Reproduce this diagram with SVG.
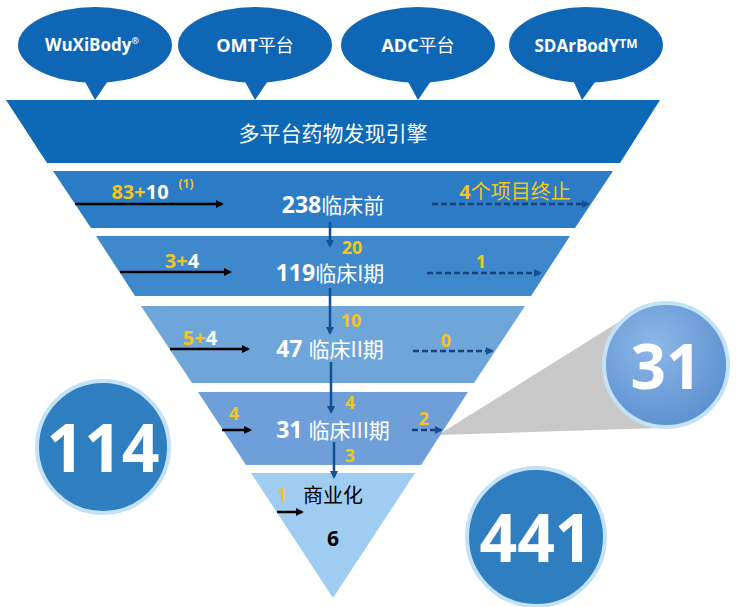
<svg xmlns="http://www.w3.org/2000/svg" width="744" height="607" viewBox="0 0 744 607">
<defs>
<style>
text{font-family:"Open Sans","Liberation Sans","Noto Sans CJK SC",sans-serif;font-weight:bold;text-anchor:middle}
.w{fill:#fff}.y{fill:#f3c51d}.k{fill:#000}
.cn{font-family:"Noto Sans CJK SC",sans-serif;font-weight:normal}
.solid{stroke:#000;stroke-width:2.5;fill:none;marker-end:url(#ak)}
.dash{stroke:#1a3f7a;stroke-width:2.5;fill:none;stroke-dasharray:6,3;marker-end:url(#ab)}
.down{stroke:#124f93;stroke-width:2.5;fill:none;marker-end:url(#ab)}
.bub{fill:#0f66b4}
</style>
<marker id="ak" markerWidth="8" markerHeight="8" refX="6" refY="4" orient="auto" markerUnits="userSpaceOnUse"><path d="M0,0L8,4L0,8z" fill="#000"/></marker>
<marker id="ab" markerWidth="8" markerHeight="8" refX="6" refY="4" orient="auto" markerUnits="userSpaceOnUse"><path d="M0,0L8,4L0,8z" fill="#124f93"/></marker>
<radialGradient id="g31" cx="0.4" cy="0.35" r="0.7"><stop offset="0" stop-color="#8db8e6"/><stop offset="1" stop-color="#5b8fd0"/></radialGradient>
</defs>
<g id="bubbles">
<g id="b1"><ellipse class="bub" cx="95" cy="45" rx="77" ry="38"/><path class="bub" d="M83,78L95,100L110,78z"/><text class="w" x="92" y="51" font-size="17">WuXiBody<tspan font-size="9" dy="-7">®</tspan></text></g>
<g id="b2"><ellipse class="bub" cx="255" cy="45" rx="77" ry="38"/><path class="bub" d="M243,78L255,100L270,78z"/><text class="w" x="255" y="52" font-size="18">OMT<tspan class="cn">平台</tspan></text></g>
<g id="b3"><ellipse class="bub" cx="418" cy="45" rx="77" ry="38"/><path class="bub" d="M406,78L418,100L433,78z"/><text class="w" x="418" y="52" font-size="18">ADC<tspan class="cn">平台</tspan></text></g>
<g id="b4"><ellipse class="bub" cx="586" cy="45" rx="77" ry="38"/><path class="bub" d="M572,78L582,100L598,78z"/><text class="w" x="586" y="52" font-size="17">SDArBodY<tspan font-size="12" dy="-4">TM</tspan></text></g>
</g>
<g id="shadow"><path d="M438,435L625,318L660,428z" fill="#c8c8c8"/></g>
<g id="funnel">
<g id="engine"><path d="M6,100H660L620,163H47z" fill="#0d68b6"/><text class="w cn" x="333" y="141" font-size="21">多平台药物发现引擎</text></g>
<g id="s0"><path d="M53,171H613L575,228H91z" fill="#2b7cc4"/></g>
<g id="s1"><path d="M96,236H570L531,296H135z" fill="#3f88cc"/></g>
<g id="s2"><path d="M141,306H525L474,383H192z" fill="#6ea6da"/></g>
<g id="s3"><path d="M198,392H468L421,465H246z" fill="#6f9fd9"/></g>
<g id="s4"><path d="M251,473H415L333,598z" fill="#9fccf0"/></g>
</g>
<g id="circles">
<g id="c114"><circle cx="103" cy="447" r="66" fill="#2f7fc0" stroke="#c3e2f6" stroke-width="4"/><text class="w" x="103" y="472" font-size="66">114</text></g>
<g id="c441"><circle cx="536" cy="537" r="69" fill="#2f7fc0" stroke="#c3e2f6" stroke-width="4"/><text class="w" x="536" y="562" font-size="66">441</text></g>
<g id="c31"><circle cx="666" cy="365" r="62" fill="url(#g31)" stroke="#c3e2f6" stroke-width="4"/><text class="w" x="666" y="389" font-size="62">31</text></g>
</g>
<g id="connectors">
<path class="solid" d="M75,204H222"/>
<path class="dash" d="M432,204H588"/>
<path class="down" d="M330,222V246"/>
<path class="solid" d="M120,272H230"/>
<path class="dash" d="M427,273H540"/>
<path class="down" d="M330,288V333"/>
<path class="solid" d="M170,349H248"/>
<path class="dash" d="M413,351H492"/>
<path class="down" d="M331,362V412"/>
<path class="solid" d="M222,430H250"/>
<path class="dash" d="M412,430H441"/>
<path class="down" d="M334,442V477"/>
<path class="solid" d="M277,512H302"/>
</g>
<g id="labels">
<text x="140" y="199" font-size="20"><tspan class="y">83+</tspan><tspan class="w">10</tspan></text>
<text class="y" x="186" y="188" font-size="12">(1)</text>
<text class="w" x="333" y="213" font-size="23">238<tspan class="cn" font-size="21">临床前</tspan></text>
<text class="y" x="515" y="199" font-size="20"><tspan>4</tspan><tspan class="cn">个项目终止</tspan></text>
<text class="y" x="352" y="254" font-size="18">20</text>
<text x="182" y="268" font-size="20"><tspan class="y">3+</tspan><tspan class="w">4</tspan></text>
<text class="w" x="330" y="281" font-size="23">119<tspan class="cn" font-size="21">临床I期</tspan></text>
<text class="y" x="481" y="268" font-size="18">1</text>
<text class="y" x="351" y="327" font-size="18">10</text>
<text x="200" y="345" font-size="20"><tspan class="y">5+</tspan><tspan class="w">4</tspan></text>
<text class="w" x="330" y="357" font-size="23">47 <tspan class="cn" font-size="21">临床II期</tspan></text>
<text class="y" x="446" y="347" font-size="18">0</text>
<text class="y" x="350" y="409" font-size="17">4</text>
<text class="y" x="234" y="420" font-size="18">4</text>
<text class="w" x="333" y="438" font-size="23">31 <tspan class="cn" font-size="21">临床III期</tspan></text>
<text class="y" x="424" y="425" font-size="18">2</text>
<text class="y" x="350" y="462" font-size="18">3</text>
<text class="y" x="282" y="501" font-size="18">1</text>
<text class="k cn" x="333" y="503" font-size="20">商业化</text>
<text class="k" x="333" y="546" font-size="21">6</text>
</g>
</svg>
